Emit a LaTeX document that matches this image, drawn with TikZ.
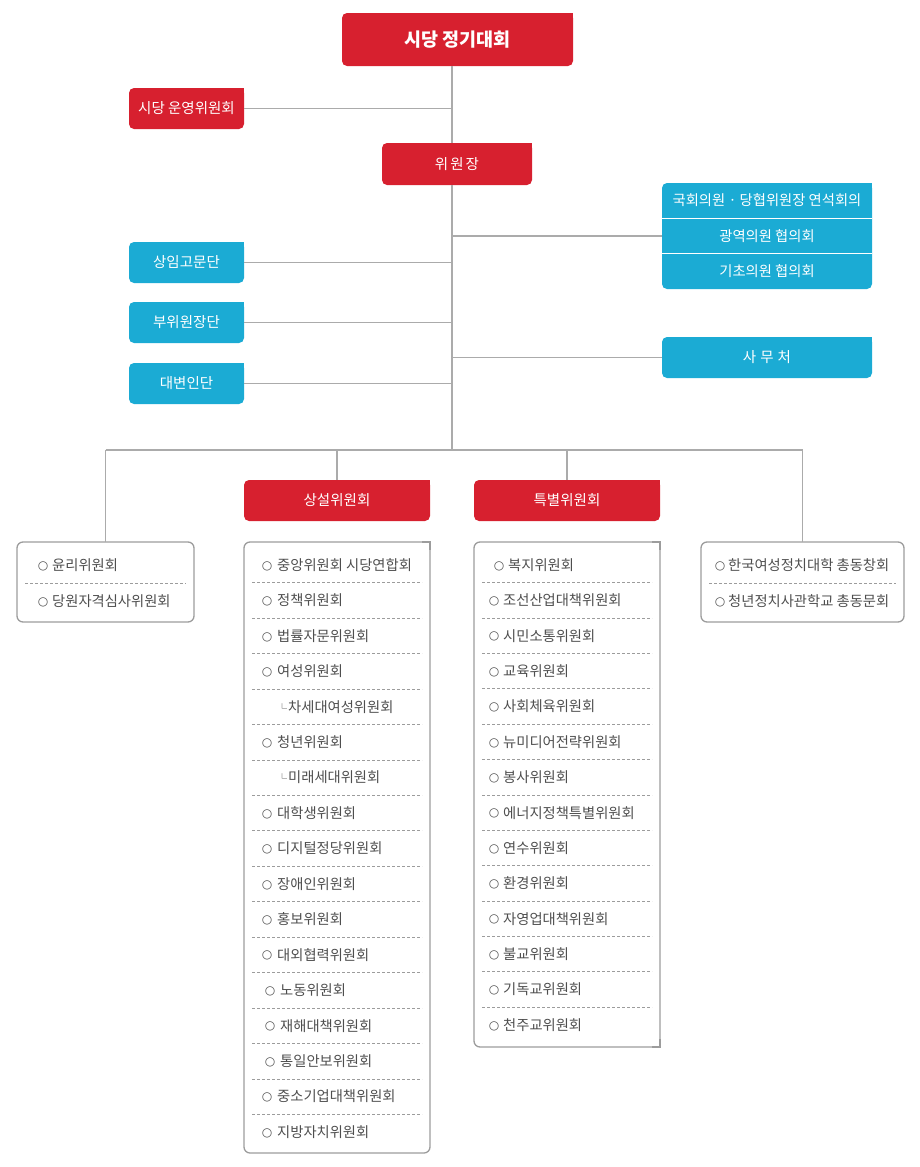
\documentclass[tikz,border=0pt]{standalone}
\usepackage{fontspec}
\setmainfont{Noto Sans CJK KR}
\newfontfamily\dv{DejaVu Sans}
\definecolor{cred}{HTML}{D7202F}
\definecolor{cblue}{HTML}{1BABD4}
\definecolor{cline}{HTML}{ABABAB}
\definecolor{cbord}{HTML}{9C9C9C}
\definecolor{ctext}{HTML}{4E4E4E}
\newcommand\subm{{\fontsize{10}{10}\selectfont └}\hspace{1pt}}
\newcommand\sqfill[2]{\fill[#2] ([xshift=-6pt]#1.north east) rectangle ([yshift=-6pt]#1.north east);}
\newcommand\sqline[2]{\fill[white] ([xshift=-8pt,yshift=1pt]#1.#2) rectangle ([xshift=1pt,yshift=-8pt]#1.#2);
  \draw[cbord,line width=1.3pt] ([xshift=-8pt]#1.#2) -- (#1.#2) -- ([yshift=-8pt]#1.#2);}
\newcommand\sqlinebr[1]{\fill[white] ([xshift=-8pt,yshift=-1pt]#1.south east) rectangle ([xshift=1pt,yshift=8pt]#1.south east);
  \draw[cbord,line width=1.3pt] ([xshift=-8pt]#1.south east) -- (#1.south east) -- ([yshift=8pt]#1.south east);}
\begin{document}
\begin{tikzpicture}[x=1pt,y=-1pt,
  redbox/.style={fill=cred, text=white, rounded corners=5pt, inner sep=0pt, outer sep=0pt, font=\fontsize{14.5}{16}\selectfont},
  bluebox/.style={fill=cblue, text=white, rounded corners=5pt, inner sep=0pt, outer sep=0pt, font=\fontsize{14.5}{16}\selectfont},
  conn/.style={draw=cline, line width=1.6pt},
  listbox/.style={draw=cbord, line width=1.3pt, rounded corners=6pt, inner sep=0pt, outer sep=0pt},
  item/.style={anchor=west, text=ctext, font=\fontsize{14.3}{16}\selectfont, inner sep=0pt},
  bulnode/.style={text=ctext, font=\dv\fontsize{12}{12}\selectfont, inner sep=0pt, yshift=-1pt},
  sep/.style={draw=cbord, dash pattern=on 3pt off 2pt, line width=0.8pt},
  wtxt/.style={text=white, font=\fontsize{14.3}{16}\selectfont, inner sep=0pt}
]
\useasboundingbox (0,0) rectangle (920,1167);
\coordinate (tk) at (452,0);
\coordinate (busc) at (452,450);

% top level
\node[redbox, minimum width=231pt, minimum height=53pt, font=\bfseries\fontsize{18.5}{20}\selectfont] (top) at (457.5,39.5) {시당 정기대회};
\sqfill{top}{cred}
\node[redbox, minimum width=115pt, minimum height=41pt] (unyeong) at (186.5,108.5) {시당 운영위원회};
\sqfill{unyeong}{cred}
\node[redbox, minimum width=150pt, minimum height=42pt] (chair) at (457,164) {위\hspace{2pt}원\hspace{2pt}장};
\sqfill{chair}{cred}

% left blue boxes
\node[bluebox, minimum width=115pt, minimum height=41pt] (adv) at (186.5,262.5) {상임고문단};
\sqfill{adv}{cblue}
\node[bluebox, minimum width=115pt, minimum height=41pt] (vice) at (186.5,322.5) {부위원장단};
\sqfill{vice}{cblue}
\node[bluebox, minimum width=115pt, minimum height=41pt] (spk) at (186.5,383.5) {대변인단};
\sqfill{spk}{cblue}

% right group
\node[bluebox, minimum width=210pt, minimum height=106pt] (grp) at (767,236) {};
\sqfill{grp}{cblue}
\node[wtxt] (g1) at (767,200.5) {국회의원 · 당협위원장 연석회의};
\node[wtxt] (g2) at (767,236) {광역의원 협의회};
\node[wtxt] (g3) at (767,271.5) {기초의원 협의회};
\coordinate (gs1) at (662,218.5);
\coordinate (gs2) at (662,253.5);
\draw[white, line width=1.3pt] (gs1) -- (gs1 -| grp.east);
\draw[white, line width=1.3pt] (gs2) -- (gs2 -| grp.east);
\node[bluebox, minimum width=210pt, minimum height=41pt] (office) at (767,357.5) {사\hspace{4pt}무\hspace{4pt}처};
\sqfill{office}{cblue}

% trunk connectors
\draw[conn] (top.south -| tk) -- (chair.north -| tk);
\draw[conn] (chair.south -| tk) -- (busc);
\draw[conn] (unyeong.east) -- (unyeong.east -| tk);
\draw[conn] (adv.east) -- (adv.east -| tk);
\draw[conn] (vice.east) -- (vice.east -| tk);
\draw[conn] (spk.east) -- (spk.east -| tk);
\draw[conn] (grp.west -| tk) -- (grp.west);
\draw[conn] (office.west -| tk) -- (office.west);

% second level
\node[redbox, minimum width=186pt, minimum height=41pt] (sang) at (337,500.5) {상설위원회};
\sqfill{sang}{cred}
\node[redbox, minimum width=186pt, minimum height=41pt] (teuk) at (567,500.5) {특별위원회};
\sqfill{teuk}{cred}

\node[listbox, minimum width=177pt, minimum height=80pt] (yunri) at (105.5,582) {};
\node[listbox, minimum width=203pt, minimum height=80pt] (hanguk) at (802.5,582) {};
\node[listbox, minimum width=186pt, minimum height=611pt] (slist) at (337,847.5) {};
\sqline{slist}{north east}
\node[listbox, minimum width=186pt, minimum height=505pt] (tlist) at (567,794.5) {};
\sqline{tlist}{north east}
\sqlinebr{tlist}

% bus
\draw[conn] (yunri.north |- busc) -- (hanguk.north |- busc);
\draw[conn] (yunri.north |- busc) -- (yunri.north);
\draw[conn] (sang.north |- busc) -- (sang.north);
\draw[conn] (teuk.north |- busc) -- (teuk.north);
\draw[conn] (hanguk.north |- busc) -- (hanguk.north);

% yunri items
\node[bulnode] (yb1) at (43,565) {○};
\node[item] (y1) at (52,565) {윤리위원회};
\node[bulnode] (yb2) at (43,601) {○};
\node[item] (y2) at (52,601) {당원자격심사위원회};
\coordinate (ys) at (25,583);
\draw[sep] (ys) -- ++(161,0);

% hanguk items
\node[bulnode] (hb1) at (720,565) {○};
\node[item] (h1) at (728,565) {한국여성정치대학 총동창회};
\node[bulnode] (hb2) at (720,601) {○};
\node[item] (h2) at (728,601) {청년정치사관학교 총동문회};
\coordinate (hs) at (709,583);
\draw[sep] (hs) -- ++(187,0);

% sangseol items
\foreach \bx/\tx/\t [count=\i from 0] in {
  267/277/중앙위원회 시당연합회,
  267/277/정책위원회,
  267/277/법률자문위원회,
  267/277/여성위원회,
  0/277/{\subm 차세대여성위원회},
  267/277/청년위원회,
  0/277/{\subm 미래세대위원회},
  267/277/대학생위원회,
  267/277/디지털정당위원회,
  267/277/장애인위원회,
  267/277/홍보위원회,
  267/277/대외협력위원회,
  270/280/노동위원회,
  270/280/재해대책위원회,
  270/280/통일안보위원회,
  267/277/중소기업대책위원회,
  267/277/지방자치위원회}{
  \ifnum\bx>0 \node[bulnode] (sb\i) at (\bx, 565+35.44*\i) {○}; \fi
  \node[item] (s\i) at (\tx, 565+35.44*\i) {\t};
  \ifnum\i>0
    \draw[sep] (252, 565+35.44*\i-17.7) -- (422, 565+35.44*\i-17.7);
  \fi
}

% teukbyeol items
\foreach \bx/\tx/\t [count=\i from 0] in {
  499/508/복지위원회,
  494/503/조선산업대책위원회,
  494/503/시민소통위원회,
  494/503/교육위원회,
  494/503/사회체육위원회,
  494/503/뉴미디어전략위원회,
  494/503/봉사위원회,
  494/503/에너지정책특별위원회,
  494/503/연수위원회,
  494/503/환경위원회,
  494/503/자영업대책위원회,
  494/503/불교위원회,
  494/503/기독교위원회,
  494/503/천주교위원회}{
  \node[bulnode] (tb\i) at (\bx, 565+35.38*\i) {○};
  \node[item] (t\i) at (\tx, 565+35.38*\i) {\t};
  \ifnum\i>0
    \draw[sep] (482, 565+35.38*\i-17.7) -- (652, 565+35.38*\i-17.7);
  \fi
}
\end{tikzpicture}
\end{document}
